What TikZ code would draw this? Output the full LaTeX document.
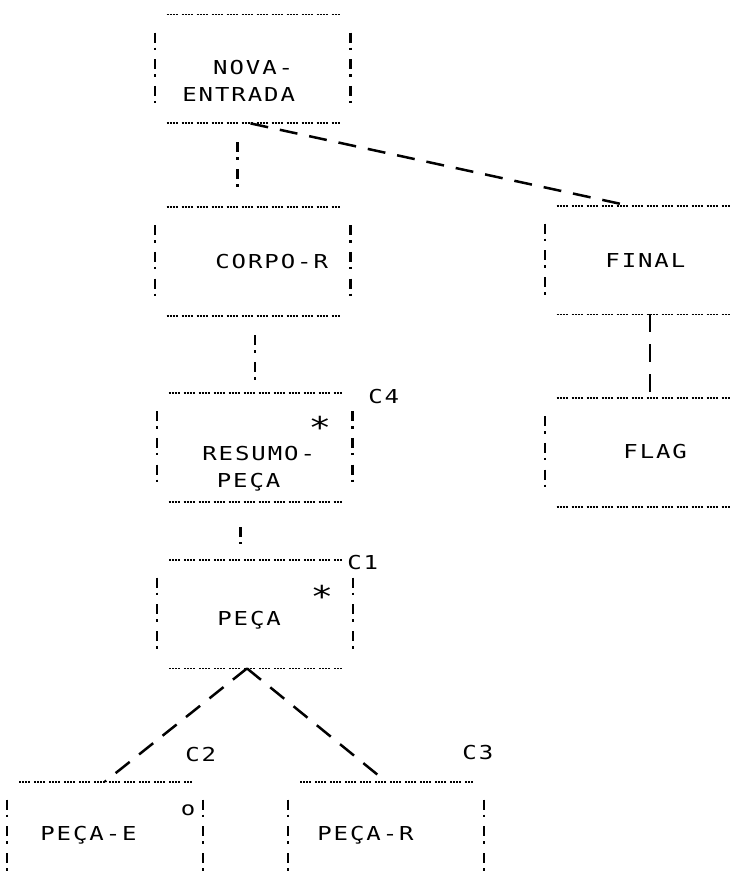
\documentclass[tikz,border=0pt]{standalone}
\usepackage{fontspec}
\usetikzlibrary{calc}
\newfontfamily\lpfont{DejaVu Sans Mono}[FakeStretch=1.25, LetterSpace=10]
\newcommand\lp{\lpfont\fontsize{9.6}{13.5}\selectfont}
\tikzset{
  lpbox/.style={rectangle, minimum width=97.5pt, minimum height=54pt, inner sep=0pt},
  dotrow/.style={line width=0.9pt, dash pattern=on 1pt off .5pt on 1pt off .5pt on 1pt off .5pt on 1pt off 2pt},
  bang/.style={line width=1.1pt, dash pattern=on 5pt off 2.5pt on 1.25pt off 4.6pt},
  pen/.style={line width=1.25pt, dash pattern=on 9pt off 6pt},
  txt/.style={font=\lp, inner sep=0pt, anchor=west, align=left},
  starmark/.style={font=\lpfont\fontsize{15}{15}\selectfont, inner sep=0pt},
}

\begin{document}
\begin{tikzpicture}[x=0.5pt, y=-0.5pt]
\useasboundingbox (0,0) rectangle (732,888);
\clip (0,0) rectangle (732,888);
% boxes
\node[lpbox] (nova)   at (252.5,69)    {};
\node[lpbox] (corpo)  at (252.5,261.5) {};
\node[lpbox] (resumo) at (254.5,447.5) {};
\node[lpbox] (peca)   at (255,614)     {};
\node[lpbox] (final)  at (642.5,260)   {};
\node[lpbox] (flag)   at (642.5,452.5) {};
\node[lpbox] (pecae)  at (105,836)     {};
\node[lpbox] (pecar)  at (386,836)     {};
\foreach \b in {nova,corpo,resumo,peca,final,flag,pecae,pecar} {
  \draw[dotrow] ($(\b.north west)+(12,0)$) -- ($(\b.north east)+(-10,0)$);
  \draw[dotrow] ($(\b.south west)+(12,0)$) -- ($(\b.south east)+(-10,0)$);
  \draw[bang] ($(\b.north west)+(0,18)$) -- ($(\b.north west)+(0,92)$);
  \draw[bang] ($(\b.north east)+(0,18)$) -- ($(\b.north east)+(0,92)$);
}
% texts
\node[txt] (nova-t)   at (182,80.5) {\phantom{EN}NOVA-\\ENTRADA};
\node[txt] (corpo-t)  at (215,262)  {CORPO-R};
\node[txt] (resumo-t) at (202,469)  {RESUMO-\\\phantom{R}PEÇA};
\node[txt] (peca-t)   at (217,620)  {PEÇA};
\node[txt] (final-t)  at (605,260)  {FINAL};
\node[txt] (flag-t)   at (623,452)  {FLAG};
\node[txt] (pecae-t)  at (40,835)   {PEÇA-E};
\node[txt] (pecar-t)  at (317,835)  {PEÇA-R};
\node[txt] (c4) at (368,397) {C4};
\node[txt] (c1) at (347,563) {C1};
\node[txt] (c2) at (185,755) {C2};
\node[txt] (c3) at (462,753) {C3};
\node[starmark] (star4) at (320,427) {*};
\node[starmark] (star1) at (322,596) {*};
\node[font=\lp, inner sep=0pt] (opt) at (188,810) {o};
% links
\draw[bang] ($(nova.south)+(-15,19)$) -- ($(corpo.north)+(-15,-20)$);
\draw[bang] ($(corpo.south)+(2.5,19.5)$) -- ($(resumo.north)+(0.5,-13.5)$);
\draw[bang] ($(resumo.south)+(-14,25.5)$) -- ($(peca.north)+(-14.5,-16)$);
\draw[pen] ($(final.south)+(7.5,0)$) -- ($(flag.north)+(7.5,0)$);
\draw[pen] ($(nova.south)+(-2,0)$) -- ($(final.north)+(-14,0)$);
\draw[pen] ($(peca.south)+(-8,0)$) -- (pecae.north);
\draw[pen] ($(peca.south)+(-8,0)$) -- (pecar.north);
\end{tikzpicture}
\end{document}
